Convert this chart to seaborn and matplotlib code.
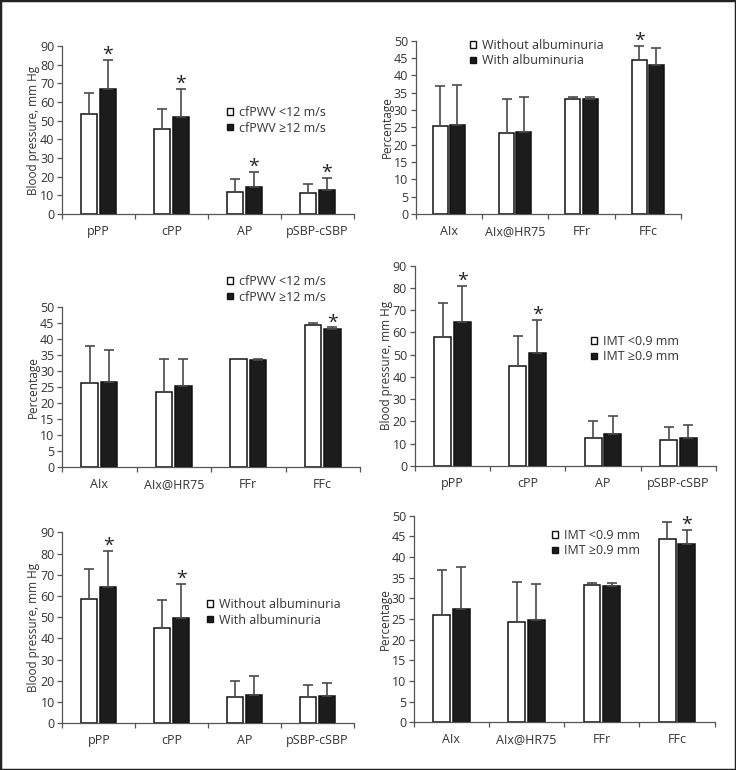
import numpy as np
import pandas as pd
import matplotlib
matplotlib.use('Agg')
import matplotlib.pyplot as plt
from matplotlib.patches import Patch, Rectangle
import seaborn as sns

# category labels
bp_cats = ['pPP', 'cPP', 'AP', 'pSBP-cSBP']
pct_cats = ['AIx', 'AIx@HR75', 'FFr', 'FFc']

# group labels
pwv_groups = ['cfPWV <12 m/s', 'cfPWV \u226512 m/s']
alb_groups = ['Without albuminuria', 'With albuminuria']
imt_groups = ['IMT <0.9 mm', 'IMT \u22650.9 mm']

# panel A: cfPWV, blood pressure (mean, SD)
a_low = [53.5, 45.3, 11.6, 11.0]
a_low_sd = [11.4, 10.8, 6.9, 5.2]
a_high = [66.7, 52.0, 14.3, 13.0]
a_high_sd = [16.0, 14.8, 8.3, 6.4]

# panel B: albuminuria, percentages
b_without = [25.5, 23.5, 33.3, 44.3]
b_without_sd = [11.3, 9.7, 0.5, 4.3]
b_with = [25.7, 23.6, 33.3, 42.9]
b_with_sd = [11.5, 10.2, 0.6, 4.9]

# panel C: cfPWV, percentages
c_low = [26.0, 23.3, 33.5, 44.4]
c_low_sd = [11.8, 10.3, 0.2, 0.5]
c_high = [26.5, 25.2, 33.3, 42.9]
c_high_sd = [10.1, 8.5, 0.2, 0.6]

# panel D: IMT, blood pressure
d_low = [58.1, 44.9, 12.5, 11.8]
d_low_sd = [15.0, 13.5, 7.5, 5.8]
d_high = [64.8, 50.9, 14.6, 12.4]
d_high_sd = [16.1, 14.7, 7.9, 6.1]

# panel E: albuminuria, blood pressure
e_without = [58.4, 45.1, 12.4, 12.3]
e_without_sd = [14.5, 13.2, 7.7, 5.9]
e_with = [64.2, 49.8, 13.5, 12.9]
e_with_sd = [17.2, 15.7, 8.8, 6.3]

# panel F: IMT, percentages
f_low = [26.0, 24.2, 33.3, 44.3]
f_low_sd = [10.9, 9.8, 0.5, 4.2]
f_high = [27.5, 24.7, 33.1, 43.1]
f_high_sd = [10.2, 8.7, 0.7, 3.4]

# significance stars: (group index, category index)
a_stars = [(1, 0), (1, 1), (1, 2), (1, 3)]
b_stars = [(0, 3)]
c_stars = [(1, 3)]
d_stars = [(1, 0), (1, 1)]
e_stars = [(1, 0), (1, 1)]
f_stars = [(1, 3)]

sns.set_style('ticks')
plt.rcParams['font.family'] = ['Open Sans', 'DejaVu Sans']
plt.rcParams['text.color'] = '#333333'

W, H = 736, 770
fig = plt.figure(figsize=(W / 100, H / 100), dpi=100)


def px_axes(x0, x1, ytop, ybot):
    return fig.add_axes([x0 / W, 1 - ybot / H, (x1 - x0) / W, (ybot - ytop) / H])


def draw_panel(ax, cats, groups, m1, s1, m2, s2, ymax, ystep, ylabel, stars, leg_px):
    df = pd.DataFrame({
        'cat': cats * 2,
        'group': [groups[0]] * 4 + [groups[1]] * 4,
        'value': m1 + m2,
    })
    sns.barplot(data=df, x='cat', y='value', hue='group', order=cats,
                hue_order=groups, palette=['white', '#1c1c1c'],
                edgecolor='#111111', linewidth=1.1, width=0.52, gap=0.14,
                legend=False, ax=ax)
    sds = [s1, s2]
    tops = {}
    bar_sets = list(ax.containers)
    for gi, cont in enumerate(bar_sets):
        xs = [b.get_x() + b.get_width() / 2 for b in cont]
        hs = [b.get_height() for b in cont]
        ax.errorbar(xs, hs, yerr=[np.zeros(4), sds[gi]], fmt='none',
                    ecolor='#4a4a4a', elinewidth=1.2, capsize=3.5,
                    capthick=1.2, zorder=1)
        for ci in range(4):
            tops[(gi, ci)] = (xs[ci], hs[ci] + sds[gi][ci])
    for key in stars:
        x, y = tops[key]
        ax.annotate('*', xy=(x, y), xytext=(0, 0), textcoords='offset points',
                    ha='center', va='baseline', fontsize=14, color='#222222')
    ax.set_xlim(-0.5, 3.5)
    ax.set_ylim(0, ymax)
    ax.set_yticks(np.arange(0, ymax + 1, ystep))
    ax.set_xticks(range(4))
    ax.set_xticklabels(cats)
    ax.set_xticks([-0.5, 0.5, 1.5, 2.5, 3.5], minor=True)
    ax.tick_params(axis='x', which='major', length=0, pad=8, labelsize=9,
                   labelcolor='#333333')
    ax.tick_params(axis='x', which='minor', length=3.5, width=0.9,
                   color='#555555', direction='out')
    ax.tick_params(axis='y', length=3.5, width=0.9, color='#555555',
                   labelsize=9, labelcolor='#333333', pad=2)
    ax.set_xlabel('')
    ax.set_ylabel(ylabel, fontsize=8.5, color='#333333', labelpad=0)
    for side in ['top', 'right']:
        ax.spines[side].set_visible(False)
    for side in ['left', 'bottom']:
        ax.spines[side].set_color('#555555')
        ax.spines[side].set_linewidth(0.9)
    handles = [Patch(facecolor='white', edgecolor='#111111', linewidth=1.0),
               Patch(facecolor='#1c1c1c', edgecolor='#111111', linewidth=1.0)]
    ax.legend(handles, groups, loc='upper left',
              bbox_to_anchor=(leg_px[0] / W, 1 - leg_px[1] / H),
              bbox_transform=fig.transFigure, frameon=False, fontsize=9,
              handlelength=0.45, handleheight=0.45, handletextpad=0.5,
              labelspacing=0.2, borderpad=0, borderaxespad=0)


ax1 = px_axes(62, 354, 46, 214)
draw_panel(ax1, bp_cats, pwv_groups, a_low, a_low_sd, a_high, a_high_sd,
           90, 10, 'Blood pressure, mm Hg', a_stars, (227, 106))

ax2 = px_axes(415.7, 681, 40.7, 214)
draw_panel(ax2, pct_cats, alb_groups, b_without, b_without_sd, b_with, b_with_sd,
           50, 5, 'Percentage', b_stars, (470, 39))

ax3 = px_axes(62, 360, 306.7, 466.7)
draw_panel(ax3, pct_cats, pwv_groups, c_low, c_low_sd, c_high, c_high_sd,
           50, 5, 'Percentage', c_stars, (227, 275))

ax4 = px_axes(414.7, 716, 265.7, 466)
draw_panel(ax4, bp_cats, imt_groups, d_low, d_low_sd, d_high, d_high_sd,
           90, 10, 'Blood pressure, mm Hg', d_stars, (591, 335))

ax5 = px_axes(62.3, 354, 532.3, 723.3)
draw_panel(ax5, bp_cats, alb_groups, e_without, e_without_sd, e_with, e_with_sd,
           90, 10, 'Blood pressure, mm Hg', e_stars, (207, 598))

ax6 = px_axes(413.7, 714.7, 515.7, 722.3)
draw_panel(ax6, pct_cats, imt_groups, f_low, f_low_sd, f_high, f_high_sd,
           50, 5, 'Percentage', f_stars, (552, 529))

fig.patches.append(Rectangle((0, 0), 1, 1, transform=fig.transFigure,
                             fill=False, edgecolor='#222222', linewidth=2.5))

fig.savefig('out.png', dpi=100, facecolor='white')
